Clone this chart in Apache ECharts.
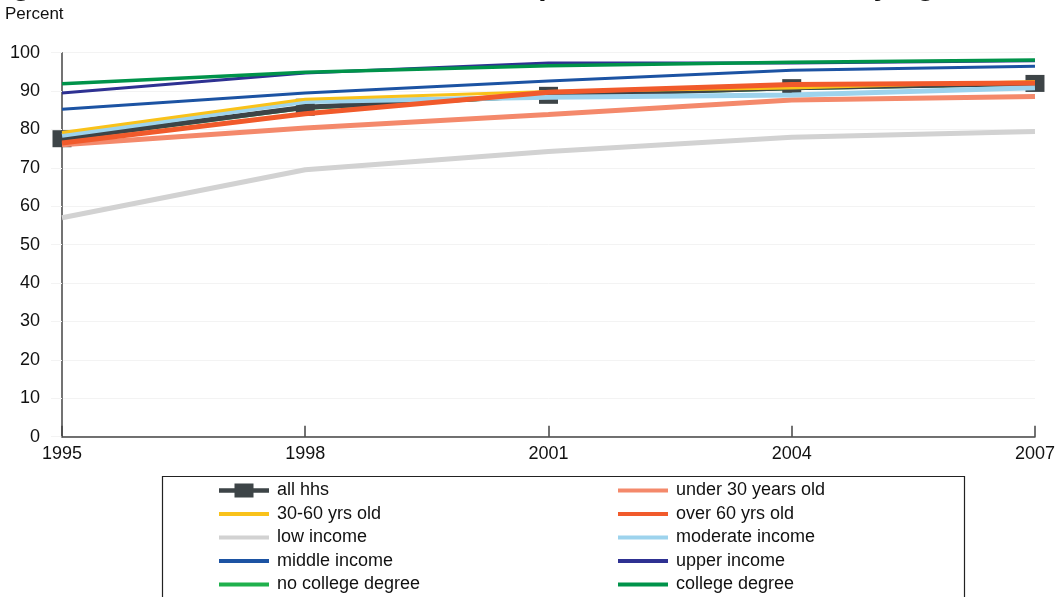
<!DOCTYPE html>
<html>
<head>
<meta charset="utf-8">
<script src="https://cdn.jsdelivr.net/npm/echarts@6/dist/echarts.min.js"></script>
<style>
  html, body { margin: 0; padding: 0; background: #ffffff; }
  #chart { width: 1058px; height: 597px; }
</style>
</head>
<body>
<div id="chart"></div>
<script>
// Survey years (x axis)
const years = ['1995', '1998', '2001', '2004', '2007'];

// Percent of households, by group
const allHhs        = [77.6, 85.8, 88.9, 90.9, 92.0];
const under30       = [76.0, 80.4, 83.9, 87.7, 88.6];
const age30to60     = [79.2, 87.9, 89.9, 90.8, 92.5];
const over60        = [76.5, 84.1, 89.7, 91.7, 92.1];
const lowIncome     = [57.0, 69.5, 74.3, 78.0, 79.5];
const moderateIncome= [78.5, 87.3, 88.4, 89.0, 90.9];
const middleIncome  = [85.3, 89.5, 92.6, 95.4, 96.5];
const upperIncome   = [89.5, 94.7, 97.3, 97.3, 97.9];
const noCollege     = [77.3, 85.5, 88.7, 90.6, 91.8];
const college       = [91.9, 94.9, 96.6, 97.5, 98.1];

// Y axis ticks
const yMin = 0, yMax = 100, yStep = 10;

const FONT = '"Liberation Sans", Arial, Helvetica, sans-serif';
const TITLE = 'Households Using an ATM Card, Debit Card, Direct Deposit, Automatic Bill Paying, or Smart Card';

// legend glyphs: a plain bar, and a bar with a square marker
const BAR_ICON = 'path://M0,0H50V4H0Z';
const MARKER_ICON = 'path://M0,5.8H15.5V1H34.5V5.8H50V10.2H34.5V15H15.5V10.2H0Z';

// place the headline so that "Deposit" starts at a fixed x
function titleLeft() {
  const ctx = document.createElement('canvas').getContext('2d');
  ctx.font = 'bold 30px ' + FONT;
  const prefix = TITLE.slice(0, TITLE.indexOf('Deposit'));
  return 500 - ctx.measureText(prefix).width;
}

function line(name, data, color, width, z) {
  return {
    name: name, type: 'line', data: data, z: z,
    symbol: 'none', showSymbol: false,
    lineStyle: { color: color, width: width, cap: 'butt' },
    itemStyle: { color: color },
    emphasis: { disabled: true },
    animation: false
  };
}

function legendItems(names) {
  return names.map(n => ({ name: n, icon: n === 'all hhs' ? MARKER_ICON : BAR_ICON }));
}

const chart = echarts.init(document.getElementById('chart'), null, { renderer: 'canvas' });

const legendCommon = {
  orient: 'vertical',
  top: 481.5,
  height: 200,
  padding: 0,
  itemWidth: 50,
  itemHeight: 16,
  itemGap: 5.5,
  symbolKeepAspect: true,
  selectedMode: false,
  textStyle: { fontFamily: FONT, fontSize: 18, color: '#111', lineHeight: 18, padding: [0, 0, 0, 3] }
};

chart.setOption({
  backgroundColor: '#ffffff',
  animation: false,
  grid: { left: 62, right: 23, top: 52.7, bottom: 160.3, containLabel: false },
  xAxis: {
    type: 'category',
    data: years,
    boundaryGap: false,
    axisLine: { show: true, lineStyle: { color: '#444', width: 1.5 } },
    axisTick: { show: true, inside: true, length: 11, lineStyle: { color: '#444', width: 1.5 } },
    axisLabel: { fontFamily: FONT, fontSize: 18, color: '#111', margin: 8 },
    splitLine: { show: false }
  },
  yAxis: {
    type: 'value',
    min: yMin, max: yMax, interval: yStep,
    axisLine: { show: true, lineStyle: { color: '#444', width: 1.5 } },
    axisTick: { show: true, length: 11, lineStyle: { color: '#f3f3f3', width: 1 } },
    axisLabel: { fontFamily: FONT, fontSize: 18, color: '#111', margin: 22 },
    splitLine: { show: true, lineStyle: { color: '#f3f3f3', width: 1 } }
  },
  legend: [
    Object.assign({ left: 219, data: legendItems(['all hhs', '30-60 yrs old', 'low income', 'middle income', 'no college degree']) }, legendCommon),
    Object.assign({ left: 618, data: legendItems(['under 30 years old', 'over 60 yrs old', 'moderate income', 'upper income', 'college degree']) }, legendCommon)
  ],
  graphic: [
    {
      type: 'text', left: titleLeft(), top: -28, silent: true,
      style: { text: TITLE, font: 'bold 30px ' + FONT, fill: '#111' }
    },
    {
      type: 'text', left: 5, top: 5.5, silent: true,
      style: { text: 'Percent', font: '17px ' + FONT, fill: '#111' }
    },
    {
      type: 'rect', left: 160, top: 474, silent: true,
      shape: { width: 802, height: 140 },
      style: { fill: 'none', stroke: '#222', lineWidth: 1.2 }
    }
  ],
  series: [
    line('no college degree', noCollege, '#1fb04c', 3, 1),
    {
      name: 'all hhs', type: 'line', data: allHhs, z: 2,
      symbol: 'rect', symbolSize: [19, 17], showSymbol: true,
      lineStyle: { color: '#3d4447', width: 5, cap: 'butt' },
      itemStyle: { color: '#3d4447' },
      emphasis: { disabled: true },
      animation: false
    },
    line('low income', lowIncome, '#d2d2d2', 5, 3),
    line('under 30 years old', under30, '#f4896b', 5, 4),
    line('moderate income', moderateIncome, '#9dd3ed', 5, 5),
    line('30-60 yrs old', age30to60, '#f9c21a', 3, 6),
    line('over 60 yrs old', over60, '#f15a2b', 5, 7),
    line('middle income', middleIncome, '#1c53a3', 3, 8),
    line('upper income', upperIncome, '#2e3192', 3, 9),
    line('college degree', college, '#00934a', 3.5, 10)
  ]
});
</script>
</body>
</html>
